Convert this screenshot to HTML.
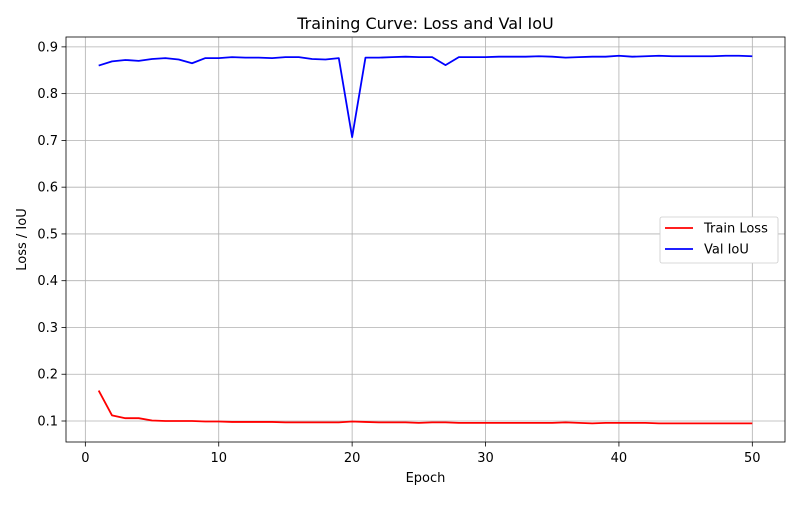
<!DOCTYPE html>
<html><head><meta charset="utf-8"><style>
body{margin:0;background:#fff;font-family:"Liberation Sans","DejaVu Sans",sans-serif}
svg text{font-family:"DejaVu Sans","Liberation Sans",sans-serif;fill:#000}
</style></head><body>
<svg id="chart" width="800" height="500" xmlns="http://www.w3.org/2000/svg"></svg>
<script>
const epochs = Array.from({length:50},(_,i)=>i+1);
const trainLoss = [0.165,0.112,0.106,0.106,0.101,0.100,0.100,0.100,0.099,0.099,0.098,0.098,0.098,0.098,0.097,0.097,0.097,0.097,0.097,0.099,0.098,0.097,0.097,0.097,0.096,0.097,0.097,0.096,0.096,0.096,0.096,0.096,0.096,0.096,0.096,0.097,0.096,0.095,0.096,0.096,0.096,0.096,0.095,0.095,0.095,0.095,0.095,0.095,0.095,0.095];
const valIoU = [0.860,0.869,0.872,0.870,0.874,0.876,0.873,0.865,0.876,0.876,0.878,0.877,0.877,0.876,0.878,0.878,0.874,0.873,0.876,0.707,0.877,0.877,0.878,0.879,0.878,0.878,0.861,0.878,0.878,0.878,0.879,0.879,0.879,0.880,0.879,0.877,0.878,0.879,0.879,0.881,0.879,0.880,0.881,0.880,0.880,0.880,0.880,0.881,0.881,0.880];
const xTicks = [0,10,20,30,40,50];
const yTicks = [0.1,0.2,0.3,0.4,0.5,0.6,0.7,0.8,0.9];
const L=66,R=785,T=37,B=442;
const xMin=-1.45,xMax=52.45,yMin=0.0551,yMax=0.9211;
const sx=v=>L+(v-xMin)/(xMax-xMin)*(R-L);
const sy=v=>B-(v-yMin)/(yMax-yMin)*(B-T);
const svg=document.getElementById('chart');
const NS='http://www.w3.org/2000/svg';
function mk(tag,attrs,parent){const e=document.createElementNS(NS,tag);for(const k in attrs)e.setAttribute(k,attrs[k]);(parent||svg).appendChild(e);return e;}
let e;
xTicks.forEach(t=>{
  e=mk('line',{x1:sx(t),x2:sx(t),y1:T,y2:B,stroke:'#b0b0b0','stroke-width':0.8});
  
  
  e=mk('line',{x1:sx(t),x2:sx(t),y1:B,y2:B+4.5,stroke:'#000','stroke-width':0.8});
  
  
  e=mk('text',{x:sx(t),y:B+20,'text-anchor':'middle','font-size':13});e.textContent=t;
  
  
});
yTicks.forEach(t=>{
  e=mk('line',{x1:L,x2:R,y1:sy(t),y2:sy(t),stroke:'#b0b0b0','stroke-width':0.8});
  
  
  e=mk('line',{x1:L-4.5,x2:L,y1:sy(t),y2:sy(t),stroke:'#000','stroke-width':0.8});
  
  
  e=mk('text',{x:L-8,y:sy(t)+4.5,'text-anchor':'end','font-size':13});e.textContent=t.toFixed(1);
  
  
});
function line(vals,color,name){
  e=mk('polyline',{points:vals.map((v,i)=>sx(epochs[i])+','+sy(v)).join(' '),fill:'none',stroke:color,'stroke-width':1.8,'stroke-linejoin':'round'});
  
  
}
line(trainLoss,'#ff0000','train-loss-line');
line(valIoU,'#0000ff','val-iou-line');
e=mk('rect',{x:L,y:T,width:R-L,height:B-T,fill:'none',stroke:'#000','stroke-width':0.8});


e=mk('text',{x:(L+R)/2,y:29,'text-anchor':'middle','font-size':16});e.textContent='Training Curve: Loss and Val IoU';


e=mk('text',{x:(L+R)/2,y:482,'text-anchor':'middle','font-size':13});e.textContent='Epoch';


e=mk('text',{x:26,y:(T+B)/2,'text-anchor':'middle','font-size':13,transform:'rotate(-90 26 '+((T+B)/2)+')'});e.textContent='Loss / IoU';


const lg=mk('g',{});


mk('rect',{x:660,y:217,width:118,height:46,rx:2,fill:'#fff',stroke:'#ccc','stroke-width':0.8},lg);
[['Train Loss','#ff0000',228],['Val IoU','#0000ff',249]].forEach(([lab,c,y])=>{
  const g=mk('g',{},lg);
  
  
  mk('line',{x1:665,x2:693,y1:y,y2:y,stroke:c,'stroke-width':1.8},g);
  const t=mk('text',{x:704,y:y+4.5,'font-size':13},g);t.textContent=lab;
});
</script>
</body></html>
